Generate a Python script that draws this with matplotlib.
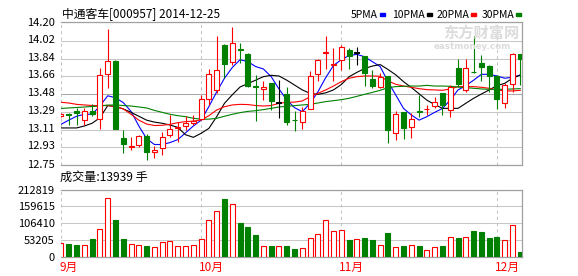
import matplotlib
matplotlib.use('Agg')
import matplotlib.pyplot as plt
from matplotlib.patches import Rectangle
from matplotlib.transforms import ScaledTranslation
import numpy as np

plt.rcParams['font.family'] = ['Noto Sans CJK SC', 'DejaVu Sans']

# daily candles
opens = [13.25, 13.27, 13.30, 13.21, 13.30, 13.22, 13.68, 13.82, 13.03, 12.93,
         12.95, 13.05, 12.88, 12.92, 13.06, 13.13, 13.15, 13.18, 13.22, 13.43,
         13.52, 13.98, 13.81, 13.94, 13.89, 13.56, 13.53, 13.59, 13.39, 13.475,
         13.215, 13.195, 13.32, 13.68, 13.90, 13.78, 13.83, 13.93, 13.90, 13.87,
         13.63, 13.555, 13.66, 13.08, 13.29, 13.14, 13.30, 13.32, 13.355, 13.49,
         13.31, 13.74, 13.52, 13.705, 13.80, 13.77, 13.66, 13.39, 13.58, 13.885]
highs = [13.28, 13.28, 13.33, 13.33, 13.38, 13.75, 14.14, 13.83, 13.11, 13.04,
         13.06, 13.07, 12.94, 13.09, 13.26, 13.19, 13.25, 13.26, 13.47, 13.73,
         14.07, 13.99, 14.17, 14.00, 13.90, 13.67, 13.61, 13.59, 13.62, 13.55,
         13.30, 13.35, 13.71, 13.84, 14.07, 13.95, 13.98, 13.95, 13.96, 13.87,
         13.72, 13.69, 13.66, 13.30, 13.29, 13.28, 13.47, 13.37, 13.45, 13.49,
         13.57, 13.84, 13.84, 14.07, 13.88, 13.78, 13.67, 13.59, 13.895, 13.89]
lows = [13.24, 13.16, 13.16, 13.16, 13.25, 13.12, 13.54, 13.12, 12.87, 12.90,
        12.93, 12.80, 12.82, 12.85, 13.04, 12.99, 13.11, 13.16, 13.21, 13.37,
        13.49, 13.64, 13.78, 13.80, 13.55, 13.20, 13.42, 13.31, 13.23, 13.16,
        13.10, 13.12, 13.32, 13.61, 13.73, 13.61, 13.72, 13.73, 13.78, 13.56,
        13.54, 13.54, 12.98, 13.01, 13.02, 13.03, 13.24, 13.26, 13.33, 13.26,
        13.24, 13.55, 13.50, 13.69, 13.61, 13.50, 13.32, 13.33, 13.50, 13.57]
closes = [13.27, 13.26, 13.28, 13.30, 13.27, 13.67, 13.82, 13.12, 12.97, 12.94,
          13.05, 12.88, 12.90, 13.04, 13.12, 13.135, 13.18, 13.20, 13.43, 13.68,
          13.72, 13.79, 14.00, 13.93, 13.56, 13.55, 13.555, 13.41, 13.39, 13.195,
          13.21, 13.30, 13.66, 13.83, 13.905, 13.79, 13.96, 13.87, 13.90, 13.69,
          13.56, 13.655, 13.11, 13.27, 13.13, 13.22, 13.295, 13.325, 13.40, 13.37,
          13.55, 13.58, 13.74, 13.70, 13.76, 13.66, 13.43, 13.57, 13.885, 13.835]
volumes = [43400, 40200, 37000, 37000, 56000, 88000, 186000, 116500, 56000, 39000,
           36000, 34000, 29700, 46600, 49800, 34000, 34000, 36000, 55000, 115000,
           144000, 183000, 167000, 107000, 94000, 69000, 33000, 34000, 33000, 34000,
           24000, 27500, 58000, 72000, 115000, 80500, 83600, 53000, 55000, 59000,
           53000, 36000, 76000, 29700, 34000, 36000, 34000, 20000, 29700, 34000,
           61000, 59000, 61000, 81500, 78000, 59000, 62000, 53000, 100500, 13939]

# moving averages as drawn
ma5 = [13.167, 13.21, 13.25, 13.27, 13.27, 13.355, 13.46, 13.44, 13.39, 13.30,
       13.15, 13.02, 12.96, 12.96, 12.98, 13.01, 13.08, 13.15, 13.21, 13.35,
       13.50, 13.64, 13.75, 13.83, 13.81, 13.76, 13.735, 13.656, 13.53, 13.417,
       13.338, 13.297, 13.383, 13.50, 13.646, 13.77, 13.83, 13.872, 13.885, 13.86,
       13.81, 13.759, 13.605, 13.468, 13.33, 13.263, 13.21, 13.246, 13.29, 13.33,
       13.417, 13.52, 13.564, 13.62, 13.68, 13.68, 13.663, 13.64, 13.65, 13.673]
ma10 = [13.13, 13.13, 13.13, 13.15, 13.178, 13.235, 13.359, 13.35, 13.325, 13.29,
        13.25, 13.21, 13.19, 13.178, 13.16, 13.136, 13.06, 13.034, 13.075, 13.126,
        13.246, 13.383, 13.47, 13.55, 13.585, 13.62, 13.656, 13.67, 13.663, 13.62,
        13.57, 13.52, 13.485, 13.475, 13.49, 13.52, 13.575, 13.655, 13.70, 13.74,
        13.765, 13.78, 13.73, 13.675, 13.605, 13.545, 13.48, 13.415, 13.37, 13.331,
        13.331, 13.331, 13.383, 13.434, 13.478, 13.52, 13.564, 13.588, 13.64, 13.673]
ma20 = [13.393, 13.386, 13.372, 13.366, 13.36, 13.36, 13.36, 13.35, 13.325, 13.27,
        13.21, 13.17, 13.155, 13.157, 13.167, 13.184, 13.195, 13.20, 13.212, 13.256,
        13.314, 13.348, 13.366, 13.372, 13.37, 13.36, 13.355, 13.36, 13.383, 13.393,
        13.395, 13.407, 13.45, 13.485, 13.52, 13.56, 13.605, 13.64, 13.656, 13.663,
        13.663, 13.66, 13.612, 13.578, 13.56, 13.547, 13.533, 13.523, 13.52, 13.516,
        13.53, 13.554, 13.554, 13.554, 13.547, 13.537, 13.52, 13.51, 13.51, 13.516]
ma30 = [13.33, 13.335, 13.34, 13.345, 13.35, 13.355, 13.365, 13.365, 13.36, 13.355,
        13.345, 13.335, 13.31, 13.29, 13.27, 13.256, 13.246, 13.229, 13.22, 13.22,
        13.229, 13.25, 13.27, 13.287, 13.30, 13.307, 13.318, 13.331, 13.345, 13.352,
        13.359, 13.366, 13.372, 13.386, 13.40, 13.41, 13.42, 13.434, 13.454, 13.475,
        13.495, 13.516, 13.543, 13.554, 13.557, 13.56, 13.56, 13.567, 13.56, 13.56,
        13.557, 13.55, 13.543, 13.537, 13.53, 13.526, 13.526, 13.526, 13.53, 13.533]

month_idx = [0, 18, 36, 56]
month_labels = ['9月', '10月', '11月', '12月']

price_ticks = [12.755, 12.93, 13.11, 13.29, 13.48, 13.66, 13.84, 14.02, 14.222]
price_labels = ['12.75', '12.93', '13.11', '13.29', '13.48', '13.66', '13.84', '14.02', '14.20']
vol_ticks = [0, 53205, 106410, 159615, 212819]
vol_labels = ['0', '53205', '106410', '159615', '212819']

RED = '#ff0000'
GREEN = '#008000'
GRID = '#c8c8c8'
BORDER = '#a0a0a0'

W, H = 578, 276
fig = plt.figure(figsize=(W / 100, H / 100), dpi=100)


def fx(px):
    return px / W


def fy(py):
    return 1 - py / H


left, right = 61, 522.3
ax = fig.add_axes([fx(left), fy(164.5), fx(right) - fx(left), fy(21.5) - fy(164.5)])
axv = fig.add_axes([fx(left), fy(256.7), fx(right) - fx(left), fy(189.7) - fy(256.7)])

x = np.arange(len(closes))
o = np.array(opens)
c = np.array(closes)
down = c < o
up = c > o
edge = np.where(up, RED, np.where(down, GREEN, 'black'))
face = np.where(down, GREEN, 'white')

xmax = (right - left) / 7.785

for a in (ax, axv):
    a.set_xlim(0, xmax)
    for s in ('top', 'right', 'bottom'):
        a.spines[s].set_color(BORDER)
        a.spines[s].set_linewidth(0.9)
    a.spines['left'].set_visible(False)
    a.tick_params(length=0, labelsize=8, pad=4.5, colors='black')
    a.set_xticks([])
    a.grid(axis='y', color=GRID, lw=0.75)
    a.set_axisbelow(True)
    for m in month_idx:
        a.axvline(m, color='#c4c4c4', lw=0.75, ls=(0, (3, 3)), zorder=1)

# price panel
ax.set_ylim(price_ticks[0], price_ticks[-1])
ax.set_yticks(price_ticks)
ax.set_yticklabels(price_labels)
ax.get_ygridlines()[4].set_color('#a8a8a8')
# inner labels sit a little above their grid lines
up_shift = ScaledTranslation(0, 2 / 100, fig.dpi_scale_trans)
for lab in ax.get_yticklabels()[1:-1]:
    lab.set_transform(lab.get_transform() + up_shift)

ax.plot(x, ma5, color='#0000ff', lw=0.8, zorder=2)
ax.plot(x, ma10, color='black', lw=0.8, zorder=2)
ax.plot(x, ma20, color=RED, lw=0.8, zorder=2)
ax.plot(x, ma30, color=GREEN, lw=0.8, zorder=2)

ax.vlines(x, lows, highs, colors=edge, lw=0.8, zorder=3)
body_lo = np.minimum(o, c)
body_h = np.maximum(np.abs(c - o), 0.006)
ax.bar(x, body_h, bottom=body_lo, width=0.64, color=face, edgecolor=edge,
       linewidth=0.8, zorder=4)

# volume panel
axv.set_ylim(0, vol_ticks[-1])
axv.set_yticks(vol_ticks)
axv.set_yticklabels(vol_labels)
axv.bar(x, volumes, width=0.64, color=face, edgecolor=np.where(down, GREEN, RED),
        linewidth=0.8, zorder=3)

for m, lab in zip(month_idx, month_labels):
    axv.text(m - 0.25, -0.155, lab, color=RED, fontsize=8.5, ha='left', va='center',
             transform=axv.get_xaxis_transform())

# texts
fig.text(fx(62), fy(14.5), '中通客车[000957] 2014-12-25', fontsize=8.5, va='center')
fig.text(fx(60), fy(177.5), '成交量:13939 手', fontsize=8.7, va='center')

legend = [('5PMA', 351, '#0000ff'), ('10PMA', 392.5, 'black'),
          ('20PMA', 436.5, RED), ('30PMA', 481.5, GREEN)]
for lab, lx, col in legend:
    t = fig.text(fx(lx), fy(14.5), lab, fontsize=7.5, va='center')
    fig.canvas.draw()
    bb = t.get_window_extent()
    fig.patches.append(Rectangle((fx(bb.x1 + 1.5), fy(16)), fx(5), fy(13) - fy(16),
                                 transform=fig.transFigure, color=col))

# watermark
fig.text(fx(443), fy(32.5), '东方财富网', fontsize=11, fontweight='bold',
         color='#dcdcdc', va='center', zorder=0)
fig.text(fx(434), fy(46.5), 'eastmoney.com', fontsize=6.3, fontweight='bold',
         color='#dcdcdc', va='center', zorder=0, family='DejaVu Sans')

fig.savefig('out.png', dpi=100)
